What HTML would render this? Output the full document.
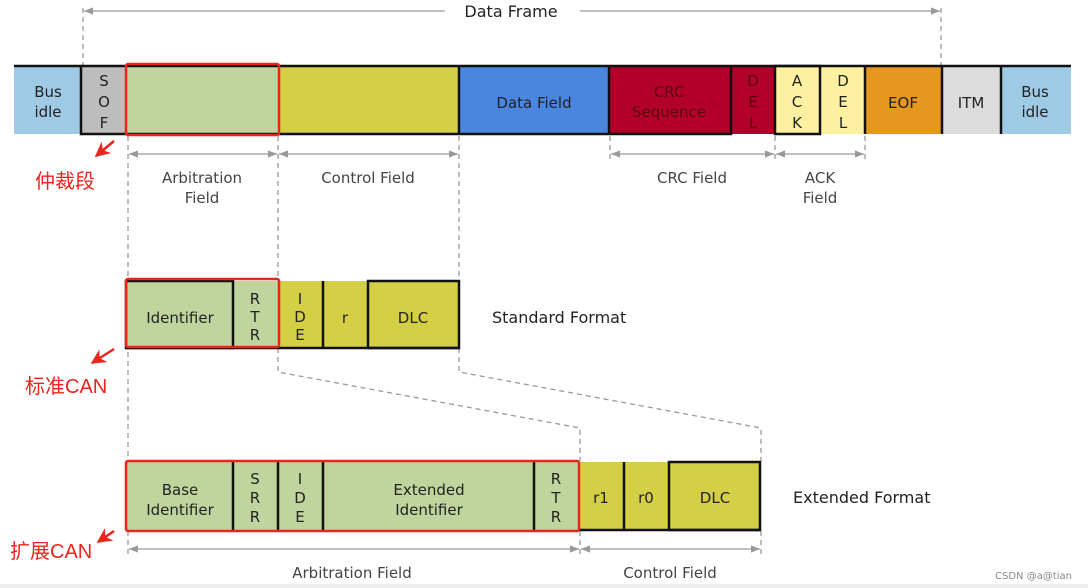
<!DOCTYPE html>
<html><head><meta charset="utf-8"><style>
html,body{margin:0;padding:0;background:#fff;width:1088px;height:588px;overflow:hidden}
svg text{font-family:"DejaVu Sans","Liberation Sans",sans-serif;fill:#222}
.z{font-family:"Liberation Sans","Noto Sans CJK SC",sans-serif;fill:#e8261c}
</style></head><body>
<svg width="1088" height="588" viewBox="0 0 1088 588" xmlns="http://www.w3.org/2000/svg">
<defs>
<marker id="a" viewBox="0 0 10 10" refX="10" refY="5" markerWidth="7" markerHeight="7" orient="auto-start-reverse"><path d="M0,1 L10,5 L0,9 z" fill="#999"/></marker>
<marker id="r" viewBox="0 0 10 10" refX="9" refY="5" markerWidth="6" markerHeight="6" orient="auto"><path d="M0,0 L10,5 L0,10 L3,5 z" fill="#e8261c"/></marker>
</defs>
<rect x="0" y="584" width="1088" height="4" fill="#eee"/>
<!-- Data frame -->
<g stroke="#999" stroke-width="1.3" fill="none">
<line x1="84" y1="11" x2="445" y2="11" marker-start="url(#a)"/>
<line x1="580" y1="11" x2="940" y2="11" marker-end="url(#a)"/>
<g stroke-dasharray="5,4">
<line x1="83" y1="8" x2="83" y2="66"/><line x1="941" y1="8" x2="941" y2="66"/>
<line x1="128" y1="136" x2="128" y2="461"/>
<line x1="278" y1="136" x2="278" y2="281"/><line x1="459" y1="136" x2="459" y2="281"/>
<line x1="610" y1="136" x2="610" y2="160"/><line x1="775" y1="136" x2="775" y2="160"/><line x1="865" y1="136" x2="865" y2="160"/>
<polyline points="278,348 278,372 580,428 580,461"/>
<polyline points="459,348 459,372 761,428 761,461"/>
<line x1="128" y1="531" x2="128" y2="556"/><line x1="580" y1="531" x2="580" y2="556"/><line x1="761" y1="531" x2="761" y2="556"/>
</g>
<line x1="129" y1="154" x2="277" y2="154" marker-start="url(#a)" marker-end="url(#a)"/>
<line x1="279" y1="154" x2="458" y2="154" marker-start="url(#a)" marker-end="url(#a)"/>
<line x1="611" y1="154" x2="774" y2="154" marker-start="url(#a)" marker-end="url(#a)"/>
<line x1="776" y1="154" x2="864" y2="154" marker-start="url(#a)" marker-end="url(#a)"/>
<line x1="129" y1="549" x2="579" y2="549" marker-start="url(#a)" marker-end="url(#a)"/>
<line x1="581" y1="549" x2="760" y2="549" marker-start="url(#a)" marker-end="url(#a)"/>
</g>
<text x="511" y="17" font-size="16" text-anchor="middle">Data Frame</text>
<!-- top row -->
<rect x="14" y="66" width="67" height="68" fill="#9ecae6"/>
<rect x="81" y="66" width="45" height="68" fill="#bdbdbd"/>
<rect x="126" y="66" width="152" height="68" fill="#c0d59e"/>
<rect x="278" y="66" width="181" height="68" fill="#d4cf45"/>
<rect x="459" y="66" width="150" height="68" fill="#4a86e0"/>
<rect x="609" y="66" width="166" height="68" fill="#b3002a"/>
<rect x="775" y="66" width="90" height="68" fill="#fdf0a0"/>
<rect x="865" y="66" width="77" height="68" fill="#e5971e"/>
<rect x="942" y="66" width="59" height="68" fill="#dcdcdc"/>
<rect x="1001" y="66" width="70" height="68" fill="#9ecae6"/>
<g stroke="#111" stroke-width="2.5" fill="none">
<polyline points="14,66 81,66 81,134 609,134"/>
<line x1="81" y1="66" x2="1071" y2="66"/>
<line x1="459" y1="66" x2="459" y2="134"/><line x1="609" y1="66" x2="609" y2="134"/>
<polyline points="609,134 731,134 731,66"/>
<rect x="775" y="66" width="45" height="68"/>
<line x1="865" y1="66" x2="865" y2="134"/><line x1="942" y1="66" x2="942" y2="134"/><line x1="1001" y1="66" x2="1001" y2="134"/>
</g>
<rect x="126" y="64" width="153" height="71" fill="none" stroke="#e8261c" stroke-width="2.5" rx="2"/>
<g font-size="15" text-anchor="middle">
<text x="48" y="97">Bus</text><text x="48" y="117">idle</text>
<text x="104" y="86">S</text><text x="104" y="107">O</text><text x="104" y="128">F</text>
<text x="534" y="108">Data Field</text>
<text x="669" y="97" style="fill:#5a0010">CRC</text><text x="669" y="117" style="fill:#5a0010">Sequence</text>
<text x="753" y="86" style="fill:#5a0010">D</text><text x="753" y="107" style="fill:#5a0010">E</text><text x="753" y="128" style="fill:#5a0010">L</text>
<text x="797" y="86">A</text><text x="797" y="107">C</text><text x="797" y="128">K</text>
<text x="843" y="86">D</text><text x="843" y="107">E</text><text x="843" y="128">L</text>
<text x="903" y="108">EOF</text><text x="971" y="108">ITM</text>
<text x="1035" y="97">Bus</text><text x="1035" y="117">idle</text>
<text x="202" y="183" style="fill:#444">Arbitration</text><text x="202" y="203" style="fill:#444">Field</text>
<text x="368" y="183" style="fill:#444">Control Field</text>
<text x="692" y="183" style="fill:#444">CRC Field</text>
<text x="820" y="183" style="fill:#444">ACK</text><text x="820" y="203" style="fill:#444">Field</text>
</g>
<!-- standard -->
<rect x="126" y="281" width="152" height="67" fill="#c0d59e"/>
<rect x="278" y="281" width="181" height="67" fill="#d4cf45"/>
<g stroke="#111" stroke-width="2.5" fill="none">
<rect x="126" y="281" width="107" height="67"/>
<line x1="126" y1="348" x2="459" y2="348"/>
<line x1="323" y1="281" x2="323" y2="348"/>
<rect x="368" y="281" width="91" height="67"/>
</g>
<rect x="126" y="279" width="153" height="68" fill="none" stroke="#e8261c" stroke-width="2.5" rx="2"/>
<g font-size="15" text-anchor="middle">
<text x="180" y="323">Identifier</text>
<text x="255" y="304">R</text><text x="255" y="322">T</text><text x="255" y="340">R</text>
<text x="300" y="304">I</text><text x="300" y="322">D</text><text x="300" y="340">E</text>
<text x="345" y="323">r</text><text x="413" y="323">DLC</text>
</g>
<text x="492" y="323" font-size="16">Standard Format</text>
<!-- extended -->
<rect x="126" y="462" width="453" height="68" fill="#c0d59e"/>
<rect x="579" y="462" width="181" height="68" fill="#d4cf45"/>
<g stroke="#111" stroke-width="2.5" fill="none">
<line x1="233" y1="462" x2="233" y2="530"/><line x1="278" y1="462" x2="278" y2="530"/>
<line x1="323" y1="462" x2="323" y2="530"/><line x1="534" y1="462" x2="534" y2="530"/>
<line x1="579" y1="530" x2="760" y2="530"/><line x1="624" y1="462" x2="624" y2="530"/>
<rect x="669" y="462" width="91" height="68"/>
</g>
<rect x="126" y="461" width="453" height="70" fill="none" stroke="#e8261c" stroke-width="2.5" rx="2"/>
<g font-size="15" text-anchor="middle">
<text x="180" y="495">Base</text><text x="180" y="515">Identifier</text>
<text x="255" y="484">S</text><text x="255" y="503">R</text><text x="255" y="522">R</text>
<text x="300" y="484">I</text><text x="300" y="503">D</text><text x="300" y="522">E</text>
<text x="429" y="495">Extended</text><text x="429" y="515">Identifier</text>
<text x="556" y="484">R</text><text x="556" y="503">T</text><text x="556" y="522">R</text>
<text x="601" y="503">r1</text><text x="646" y="503">r0</text><text x="715" y="503">DLC</text>
<text x="352" y="578" style="fill:#444">Arbitration Field</text>
<text x="670" y="578" style="fill:#444">Control Field</text>
</g>
<text x="793" y="503" font-size="16">Extended Format</text>
<text x="995" y="579" font-size="10" style="fill:#888">CSDN @a@tian</text>
<!-- red annotations -->
<g stroke="#e8261c" stroke-width="2.5" fill="none">
<line x1="114" y1="141" x2="96" y2="156" marker-end="url(#r)"/>
<line x1="114" y1="349" x2="92" y2="363" marker-end="url(#r)"/>
<line x1="114" y1="531" x2="98" y2="542" marker-end="url(#r)"/>
</g>
<text class="z" x="35" y="188" font-size="20">仲裁段</text>
<text class="z" x="25" y="393" font-size="20">标准CAN</text>
<text class="z" x="10" y="558" font-size="20">扩展CAN</text>
</svg>
</body></html>
